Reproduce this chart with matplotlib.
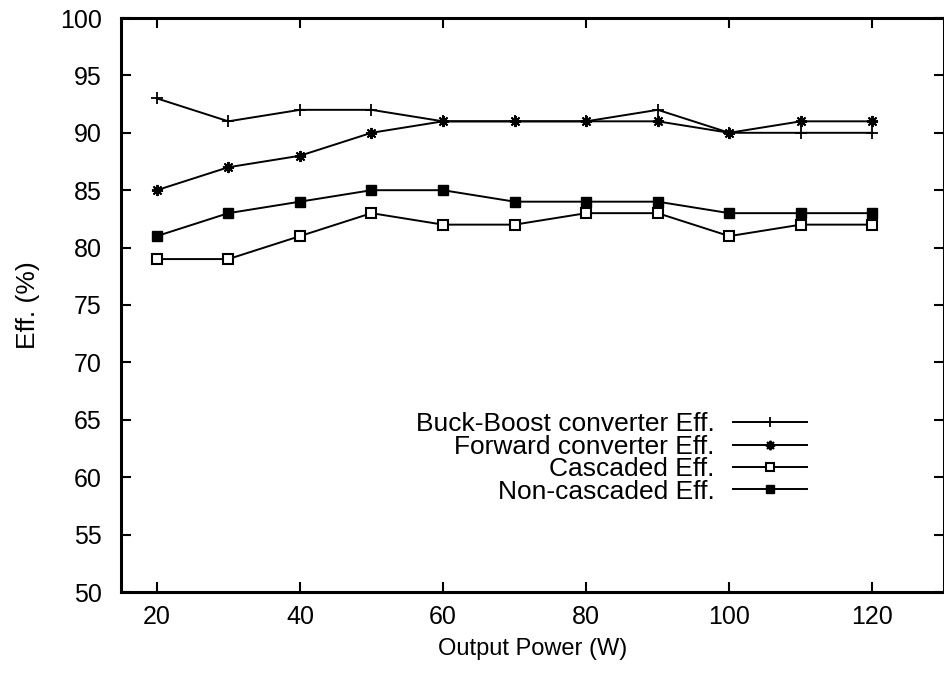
import matplotlib
matplotlib.use("Agg")
import matplotlib.pyplot as plt

plt.rcParams['font.family'] = ['Liberation Sans', 'DejaVu Sans']

power = [20, 30, 40, 50, 60, 70, 80, 90, 100, 110, 120]
buck_boost = [93, 91, 92, 92, 91, 91, 91, 92, 90, 90, 90]
forward = [85, 87, 88, 90, 91, 91, 91, 91, 90, 91, 91]
cascaded = [79, 79, 81, 83, 82, 82, 83, 83, 81, 82, 82]
non_cascaded = [81, 83, 84, 85, 85, 84, 84, 84, 83, 83, 83]

x_ticks = [20, 40, 60, 80, 100, 120]
y_ticks = [50, 55, 60, 65, 70, 75, 80, 85, 90, 95, 100]

fig = plt.figure(figsize=(9.45, 6.76), dpi=100)
ax = fig.add_axes([121 / 945, 1 - 592 / 676, 823 / 945, (592 - 18) / 676])

lw = 1.4
ax.plot(power, buck_boost, color='black', lw=lw, marker='+', ms=8, mew=1.3,
        label='Buck-Boost converter Eff.')
ax.plot(power, forward, color='black', lw=lw, marker=(8, 2, 0), ms=8, mew=1.4,
        label='Forward converter Eff.')
ax.plot(power, cascaded, color='black', lw=lw, marker='s', ms=6.5, mfc='white',
        mec='black', mew=1.5, label='Cascaded Eff.')
ax.plot(power, non_cascaded, color='black', lw=lw, marker='s', ms=7, mfc='black',
        mec='black', label='Non-cascaded Eff.')

ax.set_xlim(15, 130)
ax.set_ylim(50, 100)
ax.set_xticks(x_ticks)
ax.set_yticks(y_ticks)
ax.tick_params(direction='in', length=7, width=1.5, labelsize=18,
               top=True, right=True)
ax.tick_params(axis='y', pad=14)
ax.tick_params(axis='x', pad=9)
for s in ax.spines.values():
    s.set_linewidth(2.2)

ax.set_xlabel('Output Power (W)', fontsize=17, labelpad=7)
ax.set_ylabel('Eff. (%)', fontsize=19, labelpad=14.5)

leg = ax.legend(loc='upper right', bbox_to_anchor=(0.8335, 0.313), frameon=False,
                markerfirst=False, fontsize=19, handlelength=2.8,
                handletextpad=0.7, labelspacing=-0.06, borderpad=0,
                borderaxespad=0, markerscale=0.85)

fig.savefig('out.png', dpi=100)
